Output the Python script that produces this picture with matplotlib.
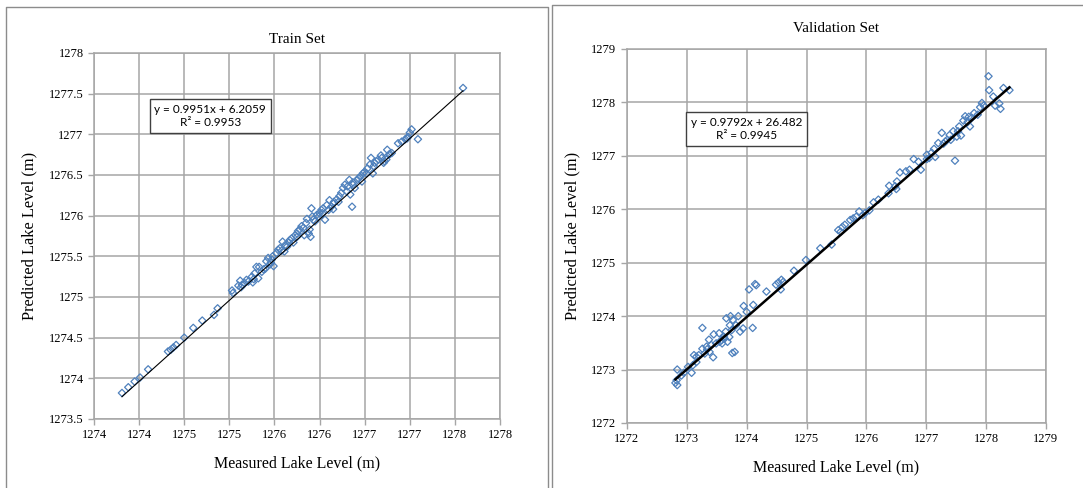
import matplotlib.pyplot as plt
import numpy as np
from matplotlib.lines import Line2D

# ---- data ----
train_x = [1273.81, 1273.88, 1273.95, 1274.01, 1274.10, 1274.32, 1274.35, 1274.38, 1274.41, 1274.50,
           1274.60, 1274.70, 1274.83, 1274.87, 1275.03, 1275.04, 1275.10, 1275.12, 1275.13, 1275.17,
           1275.21, 1275.25, 1275.26, 1275.28, 1275.30, 1275.32, 1275.33, 1275.36, 1275.38, 1275.41,
           1275.43, 1275.46, 1275.48, 1275.49, 1275.52, 1275.54, 1275.56, 1275.59, 1275.61, 1275.64,
           1275.66, 1275.69, 1275.71, 1275.73, 1275.75, 1275.78, 1275.80, 1275.83, 1275.85, 1275.86,
           1275.89, 1275.90, 1275.91, 1275.92, 1275.95, 1275.97, 1276.00, 1276.02, 1276.04, 1276.06,
           1276.08, 1276.11, 1276.13, 1276.16, 1276.19, 1276.22, 1276.24, 1276.26, 1276.28, 1276.30,
           1276.33, 1276.34, 1276.36, 1276.37, 1276.39, 1276.42, 1276.45, 1276.48, 1276.47, 1276.50,
           1276.53, 1276.56, 1276.57, 1276.59, 1276.61, 1276.65, 1276.68, 1276.71, 1276.74, 1276.75,
           1276.77, 1276.80, 1276.87, 1276.91, 1276.95, 1276.98, 1277.00, 1277.02, 1277.09, 1277.59,
           1275.14, 1275.19, 1275.27, 1275.40, 1275.45, 1275.47, 1275.58, 1275.62, 1275.67, 1275.76,
           1275.82, 1275.88, 1275.93, 1275.99, 1276.03, 1276.10, 1276.15, 1276.21, 1276.31, 1276.37,
           1276.43, 1276.52, 1276.60, 1276.63, 1276.69, 1276.72, 1276.78, 1276.97, 1276.15, 1275.75]
train_y = [1273.82, 1273.89, 1273.96, 1274.01, 1274.11, 1274.33, 1274.35, 1274.38, 1274.41, 1274.50,
           1274.62, 1274.71, 1274.78, 1274.86, 1275.08, 1275.05, 1275.14, 1275.20, 1275.12, 1275.17,
           1275.19, 1275.25, 1275.18, 1275.29, 1275.37, 1275.23, 1275.37, 1275.31, 1275.34, 1275.44,
           1275.48, 1275.42, 1275.50, 1275.38, 1275.54, 1275.58, 1275.60, 1275.68, 1275.56, 1275.62,
           1275.67, 1275.72, 1275.67, 1275.76, 1275.78, 1275.83, 1275.87, 1275.76, 1275.91, 1275.96,
           1275.83, 1275.74, 1276.09, 1275.99, 1275.93, 1276.01, 1276.03, 1276.07, 1276.09, 1275.95,
           1276.13, 1276.19, 1276.11, 1276.17, 1276.20, 1276.24, 1276.28, 1276.34, 1276.38, 1276.30,
           1276.44, 1276.26, 1276.11, 1276.41, 1276.34, 1276.44, 1276.48, 1276.52, 1276.42, 1276.54,
           1276.58, 1276.63, 1276.71, 1276.52, 1276.65, 1276.69, 1276.74, 1276.65, 1276.69, 1276.81,
           1276.75, 1276.77, 1276.89, 1276.91, 1276.94, 1276.97, 1277.02, 1277.06, 1276.94, 1277.57,
           1275.15, 1275.21, 1275.22, 1275.35, 1275.40, 1275.46, 1275.57, 1275.64, 1275.70, 1275.81,
           1275.85, 1275.78, 1275.95, 1275.99, 1276.03, 1276.07, 1276.15, 1276.17, 1276.36, 1276.38,
           1276.46, 1276.52, 1276.61, 1276.67, 1276.71, 1276.67, 1276.76, 1276.95, 1276.08, 1275.74]

val_x = [1272.81, 1272.84, 1272.83, 1272.84, 1272.91, 1272.95, 1273.02, 1273.08, 1273.10, 1273.12,
         1273.16, 1273.20, 1273.26, 1273.26, 1273.30, 1273.33, 1273.37, 1273.38, 1273.41, 1273.44,
         1273.45, 1273.49, 1273.54, 1273.55, 1273.59, 1273.62, 1273.65, 1273.66, 1273.68, 1273.71,
         1273.72, 1273.73, 1273.75, 1273.76, 1273.80, 1273.82, 1273.86, 1273.89, 1273.94, 1273.95,
         1274.00, 1274.04, 1274.10, 1274.11, 1274.14, 1274.16, 1274.33, 1274.49, 1274.53, 1274.57,
         1274.58, 1274.61, 1274.79, 1274.99, 1275.23, 1275.42, 1275.53, 1275.57, 1275.60, 1275.64,
         1275.73, 1275.78, 1275.83, 1275.88, 1275.94, 1275.98, 1276.05, 1276.12, 1276.20, 1276.37,
         1276.38, 1276.48, 1276.51, 1276.50, 1276.56, 1276.66, 1276.72, 1276.79, 1276.87, 1276.91,
         1277.01, 1277.05, 1277.09, 1277.13, 1277.15, 1277.20, 1277.26, 1277.29, 1277.35, 1277.39,
         1277.41, 1277.45, 1277.48, 1277.51, 1277.55, 1277.58, 1277.62, 1277.65, 1277.69, 1277.73,
         1277.76, 1277.80, 1277.86, 1277.90, 1277.93, 1277.96, 1278.04, 1278.05, 1278.12, 1278.15,
         1278.22, 1278.24, 1278.29, 1278.39, 1273.63, 1273.58, 1273.77, 1273.34, 1273.16, 1277.32,
         1277.53, 1277.71, 1277.01]
val_y = [1272.75, 1273.00, 1272.80, 1272.71, 1272.89, 1272.94, 1273.05, 1272.94, 1273.08, 1273.27,
         1273.14, 1273.27, 1273.39, 1273.78, 1273.30, 1273.43, 1273.56, 1273.33, 1273.46, 1273.23,
         1273.66, 1273.49, 1273.68, 1273.52, 1273.49, 1273.61, 1273.71, 1273.96, 1273.52, 1273.61,
         1273.83, 1274.00, 1273.74, 1273.31, 1273.33, 1273.83, 1274.00, 1273.71, 1273.77, 1274.19,
         1274.08, 1274.50, 1273.78, 1274.21, 1274.60, 1274.58, 1274.46, 1274.59, 1274.63, 1274.50,
         1274.68, 1274.64, 1274.85, 1275.05, 1275.27, 1275.34, 1275.61, 1275.58, 1275.67, 1275.71,
         1275.80, 1275.83, 1275.86, 1275.96, 1275.89, 1275.93, 1275.98, 1276.13, 1276.18, 1276.30,
         1276.44, 1276.43, 1276.52, 1276.38, 1276.69, 1276.71, 1276.74, 1276.94, 1276.89, 1276.74,
         1277.02, 1276.96, 1277.06, 1277.13, 1276.98, 1277.24, 1277.43, 1277.23, 1277.30, 1277.39,
         1277.30, 1277.46, 1276.91, 1277.36, 1277.55, 1277.38, 1277.66, 1277.74, 1277.63, 1277.55,
         1277.71, 1277.80, 1277.77, 1277.91, 1277.99, 1277.94, 1278.49, 1278.23, 1278.11, 1277.94,
         1277.98, 1277.88, 1278.27, 1278.23, 1273.58, 1273.55, 1273.93, 1273.38, 1273.24, 1277.27,
         1277.46, 1277.73, 1276.94]

train_fit = (0.9951, 6.2059)
val_fit = (0.9792, 26.482)
train_eq = "y = 0.9951x + 6.2059\nR² = 0.9953"
val_eq = "y = 0.9792x + 26.482\nR² = 0.9945"

train_xticks = np.arange(1273.5, 1278.01, 0.5)
train_xlabels = ["1274", "1274", "1275", "1275", "1276", "1276", "1277", "1277", "1278", "1278"]
train_yticks = np.arange(1273.5, 1278.01, 0.5)
train_ylabels = ["1273.5", "1274", "1274.5", "1275", "1275.5", "1276", "1276.5", "1277", "1277.5", "1278"]
val_ticks = np.arange(1272, 1279.1, 1)

blue = "#4f81bd"
grid_c = "#a6a6a6"
serif = "Liberation Serif"

fig = plt.figure(figsize=(10.83, 4.88), dpi=100)

# chart frames (Excel-like boxes)
fig.add_artist(Line2D([6/1083, 6/1083, 548/1083, 548/1083], [0, 1 - 7/488, 1 - 7/488, 0],
                      transform=fig.transFigure, color="#8c8c8c", lw=1))
fig.add_artist(Line2D([552/1083, 552/1083, 1.0], [0, 1 - 5/488, 1 - 5/488],
                      transform=fig.transFigure, color="#8c8c8c", lw=1))


def panel(rect, x, y, fit, eq, title, xticks, xlabels, yticks, ylabels, lim, lw, eqpos, titlepad):
    ax = fig.add_axes(rect)
    ax.set_xlim(lim)
    ax.set_ylim(lim)
    ax.set_xticks(xticks)
    ax.set_xticklabels(xlabels, fontsize=9, family=serif)
    ax.set_yticks(yticks)
    ax.set_yticklabels(ylabels, fontsize=9, family=serif)
    ax.grid(True, color=grid_c, lw=1.1)
    ax.set_axisbelow(True)
    for s in ax.spines.values():
        s.set_color(grid_c)
        s.set_linewidth(1.1)
    ax.tick_params(colors=grid_c, labelcolor="black", length=4, width=1)

    ax.scatter(x, y, marker="D", s=14, facecolors="none", edgecolors=blue, linewidths=0.9, zorder=3)
    xs = np.array([min(x), max(x)])
    ax.plot(xs, fit[0] * xs + fit[1], color="black", lw=lw, zorder=4)

    ax.text(eqpos[0], eqpos[1], eq, transform=ax.transAxes, ha="center", va="center",
            fontsize=8.5, family="Lato", linespacing=1.3,
            bbox=dict(boxstyle="square,pad=0.4", fc="white", ec="#404040", lw=1))
    ax.set_title(title, fontsize=11, family=serif, pad=titlepad)
    ax.set_xlabel("Measured Lake Level (m)", fontsize=11.5, family=serif, labelpad=10)
    ax.set_ylabel("Predicted Lake Level (m)", fontsize=11.8, family=serif, labelpad=8)
    return ax


panel([0.0868, 0.1414, 0.3749, 0.75], train_x, train_y, train_fit, train_eq, "Train Set",
      train_xticks, train_xlabels, train_yticks, train_ylabels, (1273.5, 1278), 0.8,
      (0.286, 0.828), 7)
panel([0.5789, 0.1332, 0.3869, 0.7664], val_x, val_y, val_fit, val_eq, "Validation Set",
      val_ticks, [str(int(v)) for v in val_ticks], val_ticks, [str(int(v)) for v in val_ticks],
      (1272, 1279), 1.8, (0.286, 0.786), 12)

plt.savefig("out.png", dpi=100)
